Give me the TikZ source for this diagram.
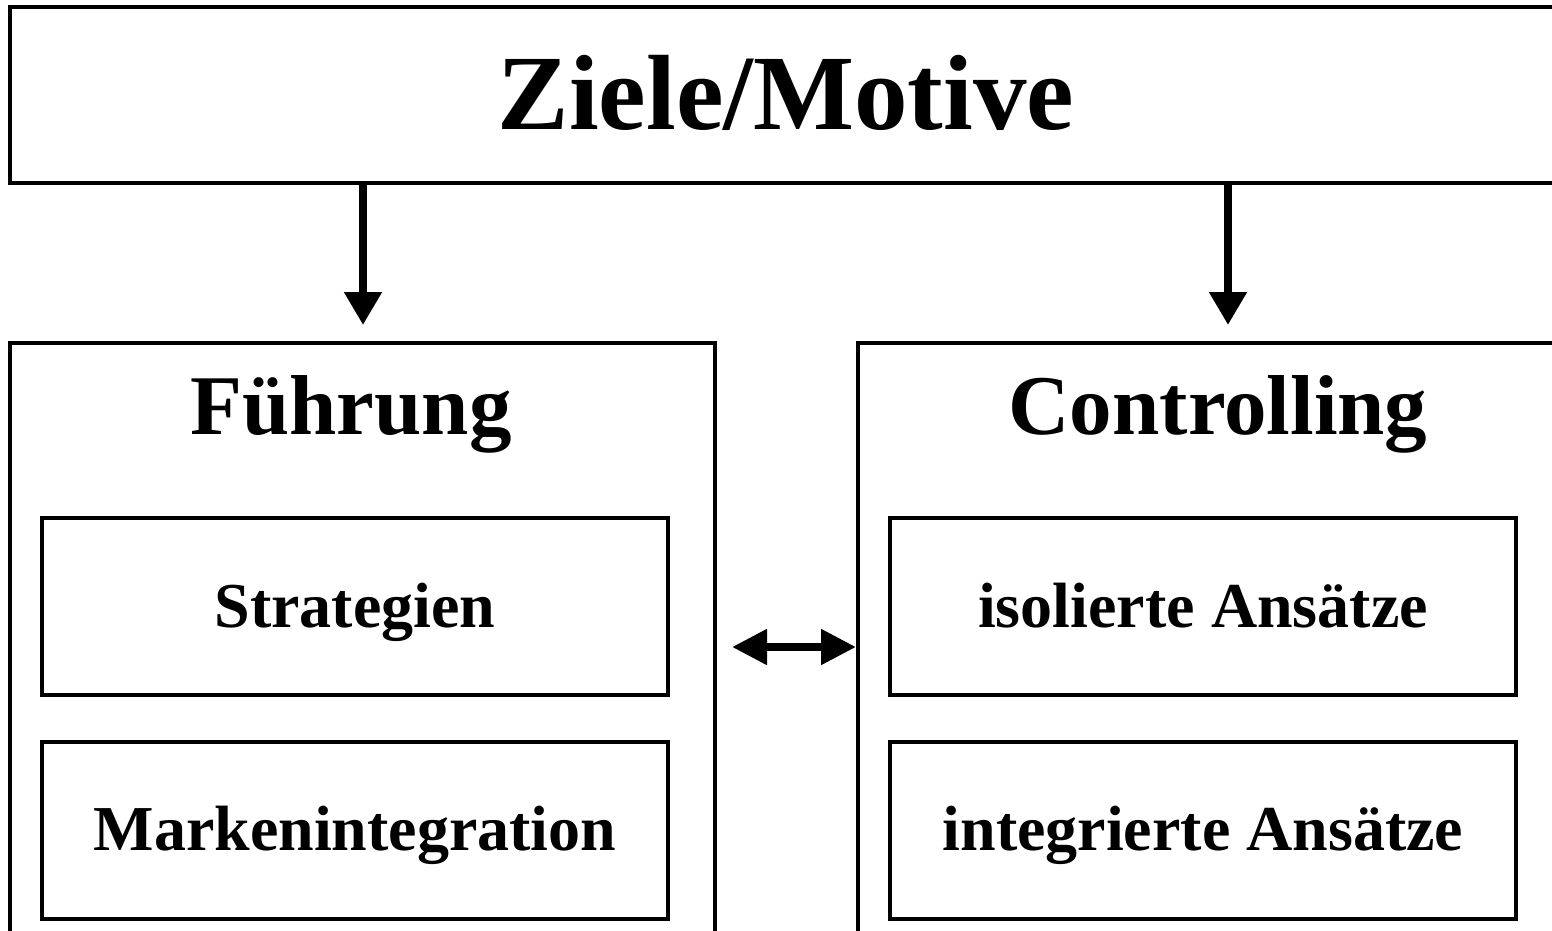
\documentclass[tikz,border=0pt]{standalone}
\usepackage{fontspec}
\setmainfont{Liberation Serif}
\usetikzlibrary{arrows.meta}
\tikzset{
  frame/.style={draw, line width=4pt, inner sep=0pt, outer sep=0pt},
  labelled/.style={frame, text height=53pt, text depth=12pt, font=\bfseries\fontsize{64}{72}\selectfont},
  heading/.style={inner sep=0pt, anchor=base, font=\bfseries\fontsize{85}{96}\selectfont},
  flow/.style={line width=8pt, -{Triangle[length=33pt,width=36pt]}},
  twoway/.style={line width=8pt, {Triangle[length=35pt,width=34pt]}-{Triangle[length=35pt,width=34pt]}}
}
\begin{document}
\begin{tikzpicture}[x=1pt, y=-1pt]
  \useasboundingbox (0,0) rectangle (1552,930);
  \clip (0,0) rectangle (1552,930);

  % goal box across the top
  \node[frame, minimum width=1552pt, minimum height=176pt,
        text height=90pt, text depth=21pt,
        font=\bfseries\fontsize{107}{120}\selectfont] (ziele) at (786,95) {Ziele/Motive};

  % the two columns
  \node[frame, minimum width=705pt, minimum height=607pt] (fuehrung) at (362.5,646.5) {};
  \node[frame, minimum width=705pt, minimum height=607pt] (controlling) at (1210.5,646.5) {};

  \node[heading] (tfuehrung) at (351,434) {Führung};
  \node[heading] (tcontrolling) at (1218,434) {Controlling};

  % entries of each column
  \node[labelled, minimum width=626pt, minimum height=177pt] (strat) at (355,606.5) {Strategien};
  \node[labelled, minimum width=626pt, minimum height=177pt] (marken) at (355,830) {Markenintegration};
  \node[labelled, minimum width=626pt, minimum height=177pt] (iso) at (1203,606.5) {isolierte Ansätze};
  \node[labelled, minimum width=626pt, minimum height=177pt] (integ) at (1203,830) {integrierte Ansätze};

  % connectors
  \coordinate (lx) at (363,0);
  \coordinate (rx) at (1228,0);
  \coordinate (my) at (0,647);
  \draw[flow, shorten >=18pt] (ziele.south -| lx) -- (fuehrung.north -| lx);
  \draw[flow, shorten >=18pt] (ziele.south -| rx) -- (controlling.north -| rx);
  \draw[twoway, shorten <=17pt, shorten >=2pt] (fuehrung.east |- my) -- (controlling.west |- my);
\end{tikzpicture}
\end{document}
